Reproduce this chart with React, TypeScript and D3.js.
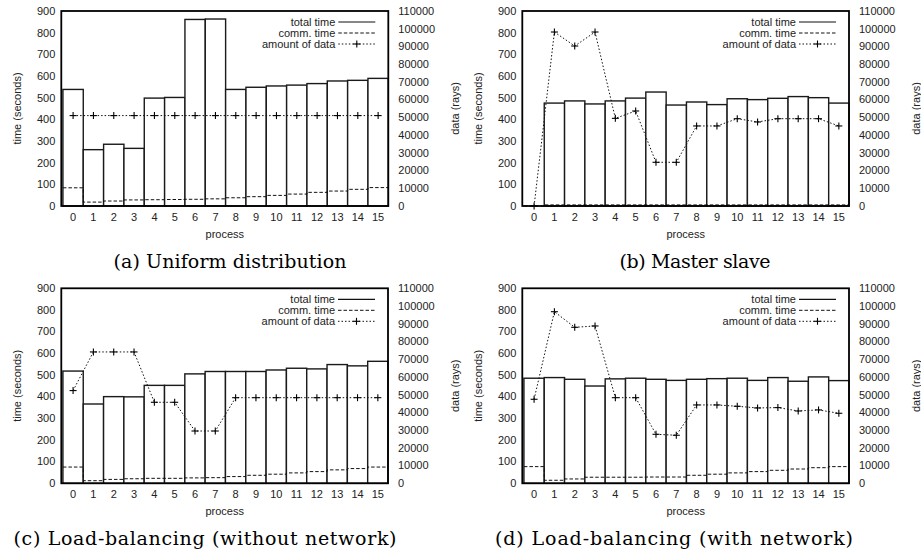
import React from "react";
import * as d3 from "d3";

const processes = d3.range(16);
const timeTicks = [0, 100, 200, 300, 400, 500, 600, 700, 800, 900];
const dataTicks = [0, 10000, 20000, 30000, 40000, 50000, 60000, 70000, 80000, 90000, 100000, 110000];

// (a) Uniform distribution
const totalA = [538, 260, 285, 266, 498, 501, 861, 863, 538, 548, 554, 558, 565, 577, 580, 589];
const commA = [84, 18, 23, 28, 29, 30, 31, 33, 38, 43, 49, 55, 63, 69, 77, 85];
const dataA = [51000, 51000, 51000, 51000, 51000, 51000, 51000, 51000, 51000, 51000, 51000, 51000, 51000, 51000, 51000, 51000];

// (b) Master slave
const totalB = [0, 475, 485, 471, 485, 498, 526, 466, 480, 468, 495, 491, 497, 505, 500, 475];
const commB = [0, 5, 5, 5, 5, 5, 5, 5, 5, 5, 5, 5, 5, 5, 5, 5];
const dataB = [0, 98150, 90250, 98150, 49450, 53600, 24650, 24650, 45150, 45150, 49250, 47400, 49250, 49250, 49250, 45150];

// (c) Load-balancing (without network)
const totalC = [518, 366, 400, 399, 452, 452, 505, 516, 516, 516, 523, 531, 528, 548, 542, 563];
const commC = [75, 12, 18, 21, 23, 23, 25, 26, 31, 37, 42, 48, 54, 62, 68, 75];
const dataC = [52300, 74100, 74100, 74100, 45700, 45700, 29500, 29500, 48300, 48300, 48300, 48300, 48300, 48300, 48300, 48300];

// (d) Load-balancing (with network)
const totalD = [485, 488, 480, 449, 482, 485, 480, 475, 480, 483, 485, 475, 488, 471, 491, 474];
const commD = [77, 14, 20, 28, 28, 28, 29, 29, 37, 42, 48, 54, 60, 66, 72, 77];
const dataD = [47400, 96800, 88000, 88750, 48300, 48300, 27650, 27100, 44200, 44200, 43450, 42500, 42700, 40800, 41400, 39500];

const legendLabels = ["total time", "comm. time", "amount of data"];
const captions = [
  "(a) Uniform distribution",
  "(b) Master slave",
  "(c) Load-balancing (without network)",
  "(d) Load-balancing (with network)",
];

const SANS = "'Liberation Sans', Arial, Helvetica, sans-serif";
const SERIF = "'DejaVu Serif', 'Liberation Serif', serif";

type PanelProps = {
  left: number;
  right: number;
  top: number;
  bottom: number;
  total: number[];
  comm: number[];
  data: number[];
  caption: string;
  captionX: number;
  captionY: number;
  captionW: number;
};

function Plus({ x, y }: { x: number; y: number }) {
  const s = 3.5;
  return (
    <g stroke="#000" strokeWidth={1.1}>
      <line x1={x - s} x2={x + s} y1={y} y2={y} />
      <line x1={x} x2={x} y1={y - s} y2={y + s} />
    </g>
  );
}

function Panel(p: PanelProps) {
  const x = d3.scaleLinear().domain([-0.58, 15.5]).range([p.left, p.right]);
  const yT = d3.scaleLinear().domain([0, 900]).range([p.bottom, p.top]);
  const yD = d3.scaleLinear().domain([0, 110000]).range([p.bottom, p.top]);

  const commPts: [number, number][] = [];
  p.comm.forEach((v, i) => {
    commPts.push([Math.max(x(i - 0.5), p.left), yT(v)]);
    commPts.push([x(i + 0.5), yT(v)]);
  });
  const commPath = d3.line()(commPts) || "";
  const dataPath =
    d3
      .line<number>()
      .x((_, i) => x(i))
      .y((v) => yD(v))(p.data) || "";

  const midY = (p.top + p.bottom) / 2;
  const legX = p.right - 53;
  const legRows = [p.top + 11, p.top + 22, p.top + 33];

  return (
    <g>
      {p.total.map((v, i) => {
        const x0 = Math.max(x(i - 0.5), p.left);
        const x1 = x(i + 0.5);
        return (
          <rect
            key={i}
            x={x0}
            y={yT(v)}
            width={x1 - x0}
            height={p.bottom - yT(v)}
            fill="#fff"
            stroke="#1a1a1a"
            strokeWidth={1.4}
          />
        );
      })}
      <path d={commPath} fill="none" stroke="#111" strokeWidth={1} strokeDasharray="3.5,2" />
      <path d={dataPath} fill="none" stroke="#111" strokeWidth={1} strokeDasharray="1.5,2" />
      {p.data.map((v, i) => (
        <Plus key={i} x={x(i)} y={yD(v)} />
      ))}
      <rect
        x={p.left}
        y={p.top}
        width={p.right - p.left}
        height={p.bottom - p.top}
        fill="none"
        stroke="#000"
        strokeWidth={1.8}
      />
      {timeTicks.map((t) => (
        <text key={t} x={p.left - 6} y={yT(t)} dy="0.35em" textAnchor="end" fontFamily={SANS} fontSize={11} fill="#222">
          {t}
        </text>
      ))}
      {dataTicks.map((t) => (
        <text key={t} x={p.right + 10} y={yD(t)} dy="0.35em" textAnchor="start" fontFamily={SANS} fontSize={11} fill="#222">
          {t}
        </text>
      ))}
      {processes.map((i) => (
        <text key={i} x={x(i)} y={p.bottom + 11} dy="0.35em" textAnchor="middle" fontFamily={SANS} fontSize={11} fill="#222">
          {i}
        </text>
      ))}
      <text x={(p.left + p.right) / 2} y={p.bottom + 28} dy="0.35em" textAnchor="middle" fontFamily={SANS} fontSize={11} fill="#222">
        process
      </text>
      <text
        transform={`translate(${p.left - 44},${midY}) rotate(-90)`}
        dy="0.35em"
        textAnchor="middle"
        fontFamily={SANS}
        fontSize={11}
        fill="#222"
      >
        time (seconds)
      </text>
      <text
        transform={`translate(${p.right + 67},${midY}) rotate(-90)`}
        dy="0.35em"
        textAnchor="middle"
        fontFamily={SANS}
        fontSize={11}
        fill="#222"
      >
        data (rays)
      </text>
      {legendLabels.map((l, k) => (
        <text key={l} x={legX} y={legRows[k]} dy="0.35em" textAnchor="end" fontFamily={SANS} fontSize={11} fill="#222">
          {l}
        </text>
      ))}
      <line x1={legX + 3} x2={p.right - 13} y1={legRows[0]} y2={legRows[0]} stroke="#111" strokeWidth={1.2} />
      <line x1={legX + 3} x2={p.right - 13} y1={legRows[1]} y2={legRows[1]} stroke="#111" strokeWidth={1} strokeDasharray="3.5,2" />
      <line x1={legX + 3} x2={p.right - 13} y1={legRows[2]} y2={legRows[2]} stroke="#111" strokeWidth={1} strokeDasharray="1.5,2" />
      <Plus x={(legX + 3 + p.right - 13) / 2} y={legRows[2]} />
      <text
        x={p.captionX}
        y={p.captionY}
        textAnchor="middle"
        fontFamily={SERIF}
        fontSize={19}
        textLength={p.captionW}
        lengthAdjust="spacing"
        fill="#000"
      >
        {p.caption}
      </text>
    </g>
  );
}

export default function App() {
  return (
    <svg width={921} height={557} style={{ position: "absolute", left: 0, top: 0, background: "#fff" }}>
      <rect x={0} y={0} width={921} height={557} fill="#fff" />
      <Panel left={61.3} right={388.3} top={11} bottom={206} total={totalA} comm={commA} data={dataA}
        caption={captions[0]} captionX={230} captionY={268} captionW={233} />
      <Panel left={522.3} right={849} top={11} bottom={206} total={totalB} comm={commB} data={dataB}
        caption={captions[1]} captionX={695} captionY={268} captionW={151} />
      <Panel left={61.3} right={388} top={288.3} bottom={483.3} total={totalC} comm={commC} data={dataC}
        caption={captions[2]} captionX={205} captionY={544.5} captionW={383} />
      <Panel left={522.3} right={849} top={288.3} bottom={483.3} total={totalD} comm={commD} data={dataD}
        caption={captions[3]} captionX={674} captionY={544.5} captionW={358} />
    </svg>
  );
}
